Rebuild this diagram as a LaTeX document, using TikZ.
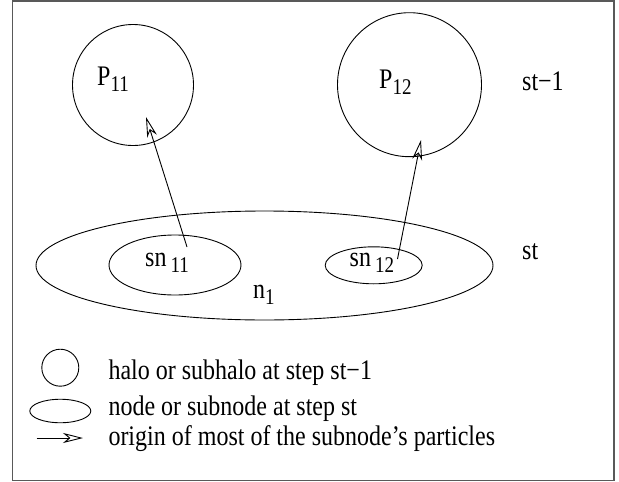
\documentclass[tikz,border=0pt]{standalone}
\usepackage{fontspec}
\setmainfont{Liberation Serif}
\usetikzlibrary{shapes.geometric,arrows.meta}
\newcommand{\mysub}[1]{\raisebox{-5.5pt}{\fontsize{19}{19}\selectfont #1}}
\newcommand{\tall}[1]{\scalebox{1}[1.18]{#1}}
\begin{document}
\begin{tikzpicture}[x=1pt,y=-1pt,
  lbl/.style={anchor=base west, inner sep=0, font=\fontsize{24}{28}\selectfont},
  halo/.style={circle, draw, line width=0.9pt, inner sep=0},
  snode/.style={ellipse, draw, line width=0.9pt, inner sep=0},
  origin/.style={line width=0.9pt, -{Stealth[open, length=20pt, width=10pt, inset=6pt]}},
  frame/.style={draw=black!65, line width=1.5pt}
]
\useasboundingbox (0,0) rectangle (619,482);
\draw[frame] (12.5,1) rectangle (614,480.5);
% halos at st-1
\node[halo, minimum size=121pt] (P11) at (133,85) {};
\node[halo, minimum size=144pt] (P12) at (409.5,84.7) {};
\node[lbl] (P11l) at (97,85) {\tall{P\mysub{11}}};
\node[lbl] (P12l) at (379,88) {\tall{P\mysub{12}}};
\node[lbl] (st1) at (522,90) {\tall{st\textminus 1}};
% nodes at st
\node[snode, minimum width=457pt, minimum height=109pt] (n1) at (264.5,265.5) {};
\node[snode, minimum width=132pt, minimum height=60pt] (sn11) at (175,265) {};
\node[snode, minimum width=97pt, minimum height=37pt] (sn12) at (373.7,265.3) {};
\node[lbl] (sn11l) at (145,266) {\tall{sn\,\mysub{11}}};
\node[lbl] (sn12l) at (349.5,266) {\tall{sn\,\mysub{12}}};
\node[lbl] (n1l) at (253,298) {\tall{n\mysub{1}}};
\node[lbl] (stl) at (522,259) {\tall{st}};
% origins
\coordinate (t1) at (187,247);
\coordinate (h1) at (146,117);
\coordinate (t2) at (397.5,259);
\coordinate (h2) at (421,140);
\draw[origin] (t1) -- (h1);
\draw[origin] (t2) -- (h2);
% legend
\node[halo, minimum size=37pt] (lc) at (60.3,367.7) {};
\node[snode, minimum width=61pt, minimum height=23.5pt] (le) at (60.3,411) {};
\coordinate (la) at (36.5,438);
\coordinate (lb) at (83,438);
\draw[origin] (la) -- (lb);
\node[lbl] (lt1) at (108.3,379) {\tall{halo or subhalo at step st\textminus 1}};
\node[lbl] (lt2) at (108.3,415) {\tall{node or subnode at step st}};
\node[lbl] (lt3) at (108.3,445) {\tall{origin of most of the subnode’s particles}};
\end{tikzpicture}
\end{document}
